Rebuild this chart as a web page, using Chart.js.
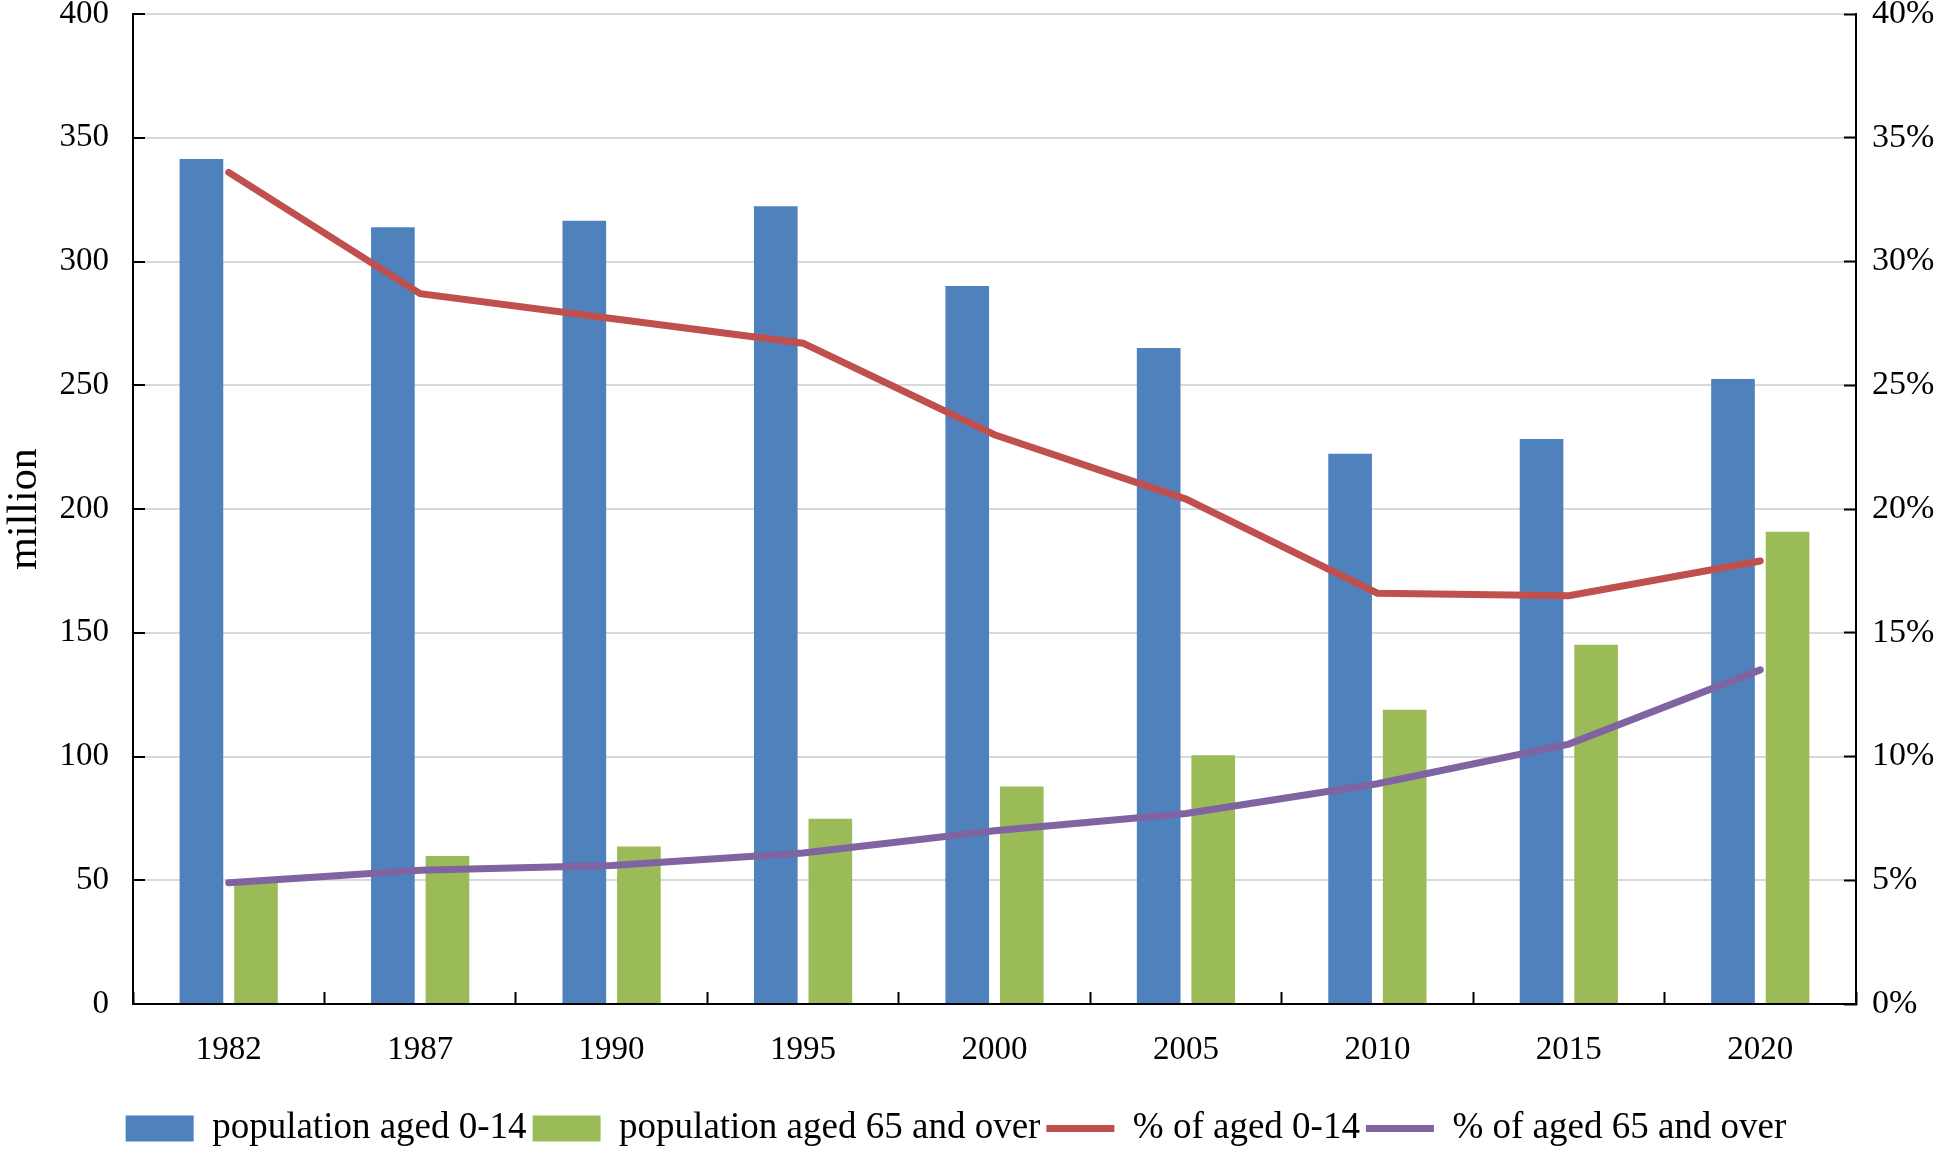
<!DOCTYPE html>
<html>
<head>
<meta charset="utf-8">
<script src="https://cdn.jsdelivr.net/npm/chart.js@4.4.1/dist/chart.umd.min.js"></script>
<style>
  html, body { margin: 0; padding: 0; background: #fff; }
</style>
</head>
<body>
<canvas id="popChart" width="1944" height="1151"></canvas>
<script>
var years = ["1982", "1987", "1990", "1995", "2000", "2005", "2010", "2015", "2020"];
var pop0to14 = [341.4, 313.8, 316.5, 322.3, 290.1, 265.1, 222.3, 228.3, 252.5];
var pop65over = [49.0, 59.8, 63.6, 74.8, 87.9, 100.5, 118.9, 145.2, 190.8];
var pct0to14 = [33.6, 28.7, 27.7, 26.7, 23.0, 20.4, 16.6, 16.5, 17.9];
var pct65over = [4.9, 5.4, 5.6, 6.1, 7.0, 7.7, 8.9, 10.5, 13.5];
var leftTicks = [0, 50, 100, 150, 200, 250, 300, 350, 400];
var rightTicks = [0, 5, 10, 15, 20, 25, 30, 35, 40];

var serif = "'Liberation Serif', 'Times New Roman', serif";

// nudge the legend a little lower / left than chart.js puts it
var legendShift = {
    id: "legendShift",
    afterLayout: function (chart) {
        chart.legend.top += 6;
        chart.legend.bottom += 6;
        chart.legend.left -= 16;
        chart.legend.right -= 16;
    },
};

new Chart("popChart", {
    type: "bar",
    data: {
        labels: years,
        datasets: [
            {
                label: "population aged 0-14",
                data: pop0to14,
                backgroundColor: "#4F81BD",
                yAxisID: "y",
                order: 2,
                pointStyle: "rect",
                categoryPercentage: 0.57,
                barPercentage: 0.8,
            },
            {
                label: "population aged 65 and over",
                data: pop65over,
                backgroundColor: "#9BBB59",
                yAxisID: "y",
                order: 2,
                pointStyle: "rect",
                categoryPercentage: 0.57,
                barPercentage: 0.8,
            },
            {
                type: "line",
                label: "% of aged 0-14",
                data: pct0to14,
                borderColor: "#C0504D",
                backgroundColor: "#C0504D",
                borderWidth: 7,
                borderCapStyle: "round",
                pointRadius: 0,
                pointStyle: "line",
                tension: 0,
                yAxisID: "y1",
                order: 1,
            },
            {
                type: "line",
                label: "% of aged 65 and over",
                data: pct65over,
                borderColor: "#8064A2",
                backgroundColor: "#8064A2",
                borderWidth: 7,
                borderCapStyle: "round",
                pointRadius: 0,
                pointStyle: "line",
                tension: 0,
                yAxisID: "y1",
                order: 1,
            },
        ],
    },
    plugins: [legendShift],
    options: {
        responsive: false,
        animation: false,
        devicePixelRatio: 1,
        layout: { padding: 0 },
        plugins: {
            tooltip: { enabled: false },
            legend: {
                position: "bottom",
                labels: {
                    usePointStyle: true,
                    pointStyleWidth: 68,
                    boxHeight: 26,
                    padding: 6,
                    color: "#000",
                    font: { family: serif, size: 37 },
                    sort: function (a, b) { return a.datasetIndex - b.datasetIndex; },
                },
            },
        },
        scales: {
            x: {
                grid: {
                    offset: true,
                    drawOnChartArea: false,
                    tickLength: -12,
                    tickWidth: 2,
                    tickColor: "#000",
                },
                border: { color: "#000", width: 2 },
                ticks: {
                    color: "#000",
                    padding: 39,
                    font: { family: serif, size: 33 },
                },
                afterFit: function (s) { s.height = 94; },
            },
            y: {
                position: "left",
                min: 0,
                max: 400,
                afterBuildTicks: function (s) {
                    s.ticks = leftTicks.map(function (v) { return { value: v }; });
                },
                grid: {
                    color: "#D9D9D9",
                    lineWidth: 2,
                    tickLength: -12,
                    tickWidth: 2,
                    tickColor: "#000",
                },
                border: { color: "#000", width: 2 },
                ticks: {
                    color: "#000",
                    padding: 36,
                    font: { family: serif, size: 33 },
                },
                title: {
                    display: true,
                    text: "million",
                    color: "#000",
                    padding: 0,
                    font: { family: serif, size: 42 },
                },
                afterFit: function (s) {
                    s.width = 133;
                    s.paddingTop = 14;
                    s.paddingBottom = 14;
                },
            },
            y1: {
                position: "right",
                min: 0,
                max: 40,
                afterBuildTicks: function (s) {
                    s.ticks = rightTicks.map(function (v) { return { value: v }; });
                },
                grid: {
                    drawOnChartArea: false,
                    tickLength: -12,
                    tickWidth: 2,
                    tickColor: "#000",
                },
                border: { color: "#000", width: 2 },
                ticks: {
                    color: "#000",
                    padding: 28,
                    font: { family: serif, size: 34 },
                    callback: function (v) { return v + "%"; },
                },
                afterFit: function (s) {
                    s.width = 88;
                    s.paddingTop = 14;
                    s.paddingBottom = 14;
                },
            },
        },
    },
});
</script>
</body>
</html>
